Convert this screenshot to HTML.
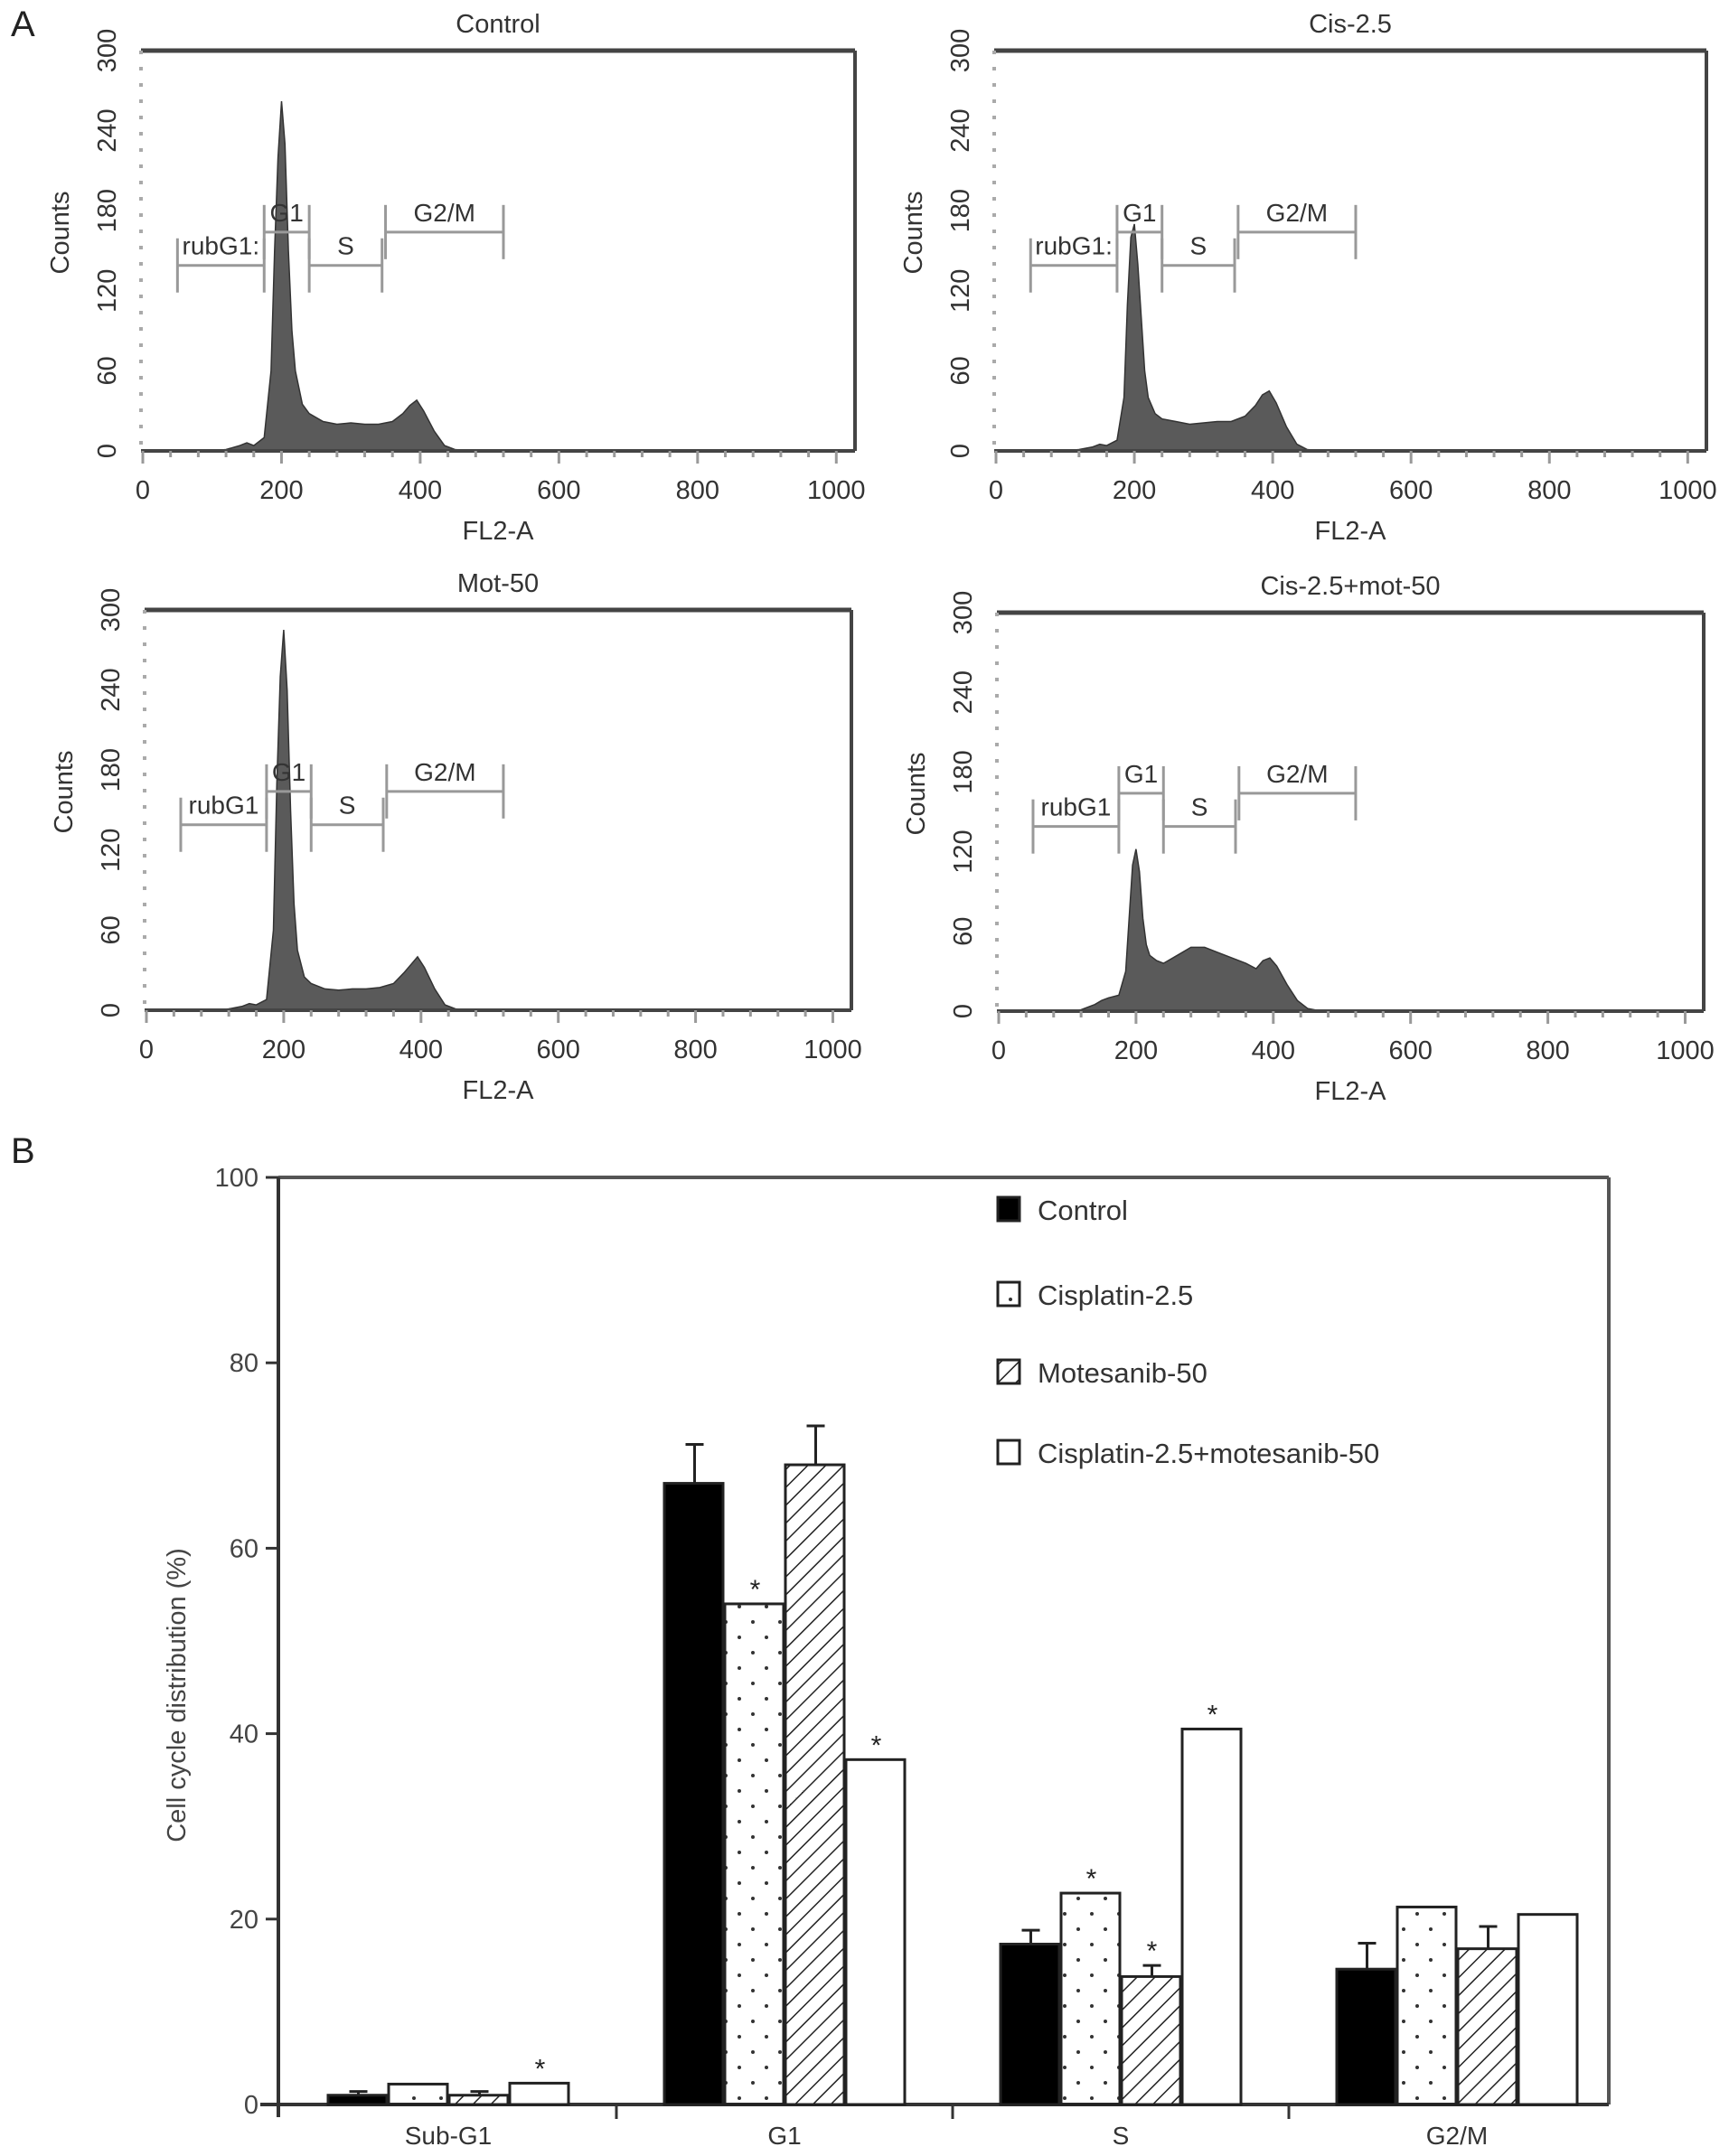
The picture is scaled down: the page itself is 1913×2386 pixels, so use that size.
<!DOCTYPE html>
<html><head><meta charset="utf-8">
<style>
html,body{margin:0;padding:0;background:#fff;}
svg{display:block;font-family:"Liberation Sans",Arial,sans-serif;}
</style></head>
<body>
<svg id="fig" width="1913" height="2386" viewBox="0 0 1913 2386" xmlns="http://www.w3.org/2000/svg">
<defs>
<pattern id="dots" width="30" height="34" patternUnits="userSpaceOnUse">
<circle cx="8" cy="10" r="2" fill="#333"/><circle cx="23" cy="27" r="2" fill="#333"/>
</pattern>
<pattern id="hatch" width="14" height="14" patternUnits="userSpaceOnUse" patternTransform="rotate(45)">
<rect width="14" height="14" fill="#fff"/><line x1="0" y1="0" x2="0" y2="14" stroke="#222" stroke-width="3"/>
</pattern>
</defs>
<text x="12" y="40" font-size="40" fill="#222">A</text>
<text x="12" y="1287" font-size="40" fill="#222">B</text>
</svg>
<script>
// ---------- Panel A histogram data ----------
const histX = [0,100,120,140,150,160,175,185,190,195,200,205,210,215,220,230,240,260,280,300,320,340,360,375,385,395,405,420,435,450,470,1027];
const histControl = [0,0,1,4,6,4,10,60,150,220,262,230,150,90,60,35,28,22,20,21,20,20,22,28,34,38,30,15,4,1,0,0];
const histCis = [0,0,1,3,5,4,8,40,110,160,170,140,100,60,40,28,24,22,20,21,22,22,26,34,42,45,36,18,5,1,0,0];
const histMot = [0,0,1,3,5,4,8,60,170,250,285,240,150,80,45,25,20,16,15,16,16,17,20,28,34,40,32,16,4,1,0,0];
const histCombo = [0,0,1,5,8,10,12,30,70,110,122,105,70,50,42,38,36,42,48,48,44,40,36,32,38,40,34,20,8,2,0,0];
const yTicks = [0,60,120,180,240,300];
const xTicks = [0,200,400,600,800,1000];
const panelTitles = ["Control","Cis-2.5","Mot-50","Cis-2.5+mot-50"];
const panelSeries = [histControl,histCis,histMot,histCombo];
const gateNames = ["rubG1","G1","S","G2/M"];
const gateStart = [50,175,240,350];
const gateEnd = [175,240,345,520];
const gateLevel = [139,164,139,164];
const gateLabelsP1 = ["rubG1:","G1","S","G2/M"];

// ---------- Panel B bar data ----------
const categories = ["Sub-G1","G1","S","G2/M"];
const seriesNames = ["Control","Cisplatin-2.5","Motesanib-50","Cisplatin-2.5+motesanib-50"];
const valControl = [1.0,67.0,17.3,14.6];
const valCis = [2.2,54.0,22.8,21.3];
const valMot = [1.0,69.0,13.8,16.8];
const valCombo = [2.3,37.2,40.5,20.5];
const errControl = [0.4,4.2,1.5,2.8];
const errCis = [0,0,0,0];
const errMot = [0.4,4.2,1.2,2.4];
const errCombo = [0,0,0,0];
const starControl = [0,0,0,0];
const starCis = [0,1,1,0];
const starMot = [0,0,1,0];
const starCombo = [1,1,1,0];
const barTicks = [0,20,40,60,80,100];

const NS="http://www.w3.org/2000/svg";
const svg=document.getElementById('fig');
function mk(tag,attrs,parent,text){const e=document.createElementNS(NS,tag);for(const k in attrs)e.setAttribute(k,attrs[k]);if(text!==undefined)e.textContent=text;(parent||svg).appendChild(e);return e;}

const panels=[
 {L:156,R:946,T:56,B:499},
 {L:1100,R:1888,T:56,B:499},
 {L:160,R:942,T:675,B:1118},
 {L:1103,R:1885,T:678,B:1119}
];
panels.forEach((p,i)=>{
  const g=mk('g',{});
  
  
  const x0=p.L+2, xs=(p.R-p.L-2)/1027;
  const X=v=>x0+v*xs, Y=v=>p.B-v*(p.B-p.T)/300;
  const s=panelSeries[i];
  let d='M'+X(histX[0])+','+Y(0);
  histX.forEach((xv,k)=>{d+=' L'+X(xv).toFixed(1)+','+Y(s[k]).toFixed(1);});
  d+=' L'+X(histX[histX.length-1])+','+Y(0)+' Z';
  const h=mk('path',{d:d,fill:'#5a5a5a',stroke:'#333','stroke-width':1.5},g);
  
  
  mk('line',{x1:p.L,y1:p.T,x2:p.R,y2:p.T,stroke:'#444','stroke-width':5},g);
  mk('line',{x1:p.R,y1:p.T,x2:p.R,y2:p.B,stroke:'#444','stroke-width':4},g);
  mk('line',{x1:p.L,y1:p.B,x2:p.R,y2:p.B,stroke:'#444','stroke-width':4},g);
  mk('line',{x1:p.L,y1:p.T,x2:p.L,y2:p.B,stroke:'#aaa','stroke-width':4,'stroke-dasharray':'4 14'},g);
  for(let v=0;v<=1000;v+=40){mk('line',{x1:X(v),y1:p.B,x2:X(v),y2:p.B+(v%200==0?14:7),stroke:'#999','stroke-width':3},g);}
  xTicks.forEach(v=>{const t=mk('text',{x:X(v),y:p.B+53,'font-size':29,'text-anchor':'middle',fill:'#333'},g,String(v));});
  yTicks.forEach(v=>{const t=mk('text',{x:0,y:0,'font-size':29,'text-anchor':'middle',fill:'#333',transform:`translate(${p.L-28},${Y(v)}) rotate(-90)`},g,String(v));});
  const xt=mk('text',{x:(p.L+p.R)/2,y:p.B+98,'font-size':29,'text-anchor':'middle',fill:'#333'},g,'FL2-A');
  
  const yt=mk('text',{x:0,y:0,'font-size':29,'text-anchor':'middle',fill:'#333',transform:`translate(${p.L-80},${(p.T+p.B)/2-20}) rotate(-90)`},g,'Counts');
  
  const tt=mk('text',{x:(p.L+p.R)/2,y:p.T-20,'font-size':29,'text-anchor':'middle',fill:'#333'},g,panelTitles[i]);
  
  gateNames.forEach((gn,k)=>{
    const gy=Y(gateLevel[k]);
    const gg=mk('g',{stroke:'#999','stroke-width':3},g);
    
    
    mk('line',{x1:X(gateStart[k]),y1:gy,x2:X(gateEnd[k]),y2:gy},gg);
    mk('line',{x1:X(gateStart[k]),y1:gy-30,x2:X(gateStart[k]),y2:gy+30},gg);
    mk('line',{x1:X(gateEnd[k]),y1:gy-30,x2:X(gateEnd[k]),y2:gy+30},gg);
    const lbl=(i==0||i==1)?gateLabelsP1[k]:gn;
    mk('text',{x:(X(gateStart[k])+X(gateEnd[k]))/2,y:gy-12,'font-size':28,'text-anchor':'middle',fill:'#333',stroke:'none'},gg,lbl);
  });
});

// ---------- Panel B ----------
const B={L:308,R:1780,T:1303,B:2329};
const YB=v=>B.B-v*(B.B-B.T)/100;
const bandStart=310, catW=372;
const barW=67;
const gb=mk('g',{});


mk('line',{x1:B.L,y1:B.T,x2:B.R,y2:B.T,stroke:'#555','stroke-width':4},gb);
mk('line',{x1:B.R,y1:B.T,x2:B.R,y2:B.B,stroke:'#555','stroke-width':4},gb);
mk('line',{x1:B.L,y1:B.T,x2:B.L,y2:B.B+14,stroke:'#333','stroke-width':4},gb);
mk('line',{x1:B.L-20,y1:B.B,x2:B.R,y2:B.B,stroke:'#333','stroke-width':4},gb);
barTicks.forEach(v=>{
  mk('line',{x1:B.L-14,y1:YB(v),x2:B.L,y2:YB(v),stroke:'#333','stroke-width':3},gb);
  const t=mk('text',{x:B.L-22,y:YB(v)+10,'font-size':29,'text-anchor':'end',fill:'#444'},gb,String(v));
  
});
const yta=mk('text',{x:0,y:0,'font-size':29,'text-anchor':'middle',fill:'#444',transform:`translate(205,${(B.T+B.B)/2+60}) rotate(-90)`},gb,'Cell cycle distribution (%)');

const vals=[valControl,valCis,valMot,valCombo];
const errs=[errControl,errCis,errMot,errCombo];
const stars=[starControl,starCis,starMot,starCombo];
const fills=['#000','url(#dots)','url(#hatch)','#fff'];
categories.forEach((c,ci)=>{
  const cx=bandStart+catW*(ci+0.5);
  if(ci>0) mk('line',{x1:bandStart+catW*ci,y1:B.B,x2:bandStart+catW*ci,y2:B.B+16,stroke:'#333','stroke-width':3},gb);
  const cl=mk('text',{x:cx,y:B.B+44,'font-size':28,'text-anchor':'middle',fill:'#333'},gb,c);
  
  vals.forEach((arr,si)=>{
    const x=cx-2*barW+si*barW+1;
    const y=YB(arr[ci]);
    const r=mk('rect',{x:x,y:y,width:barW-2,height:B.B-y,fill:fills[si],stroke:'#222','stroke-width':3},gb);
    
    
    if(errs[si][ci]>0){
      const ye=YB(arr[ci]+errs[si][ci]);
      mk('line',{x1:x+barW/2,y1:y,x2:x+barW/2,y2:ye,stroke:'#222','stroke-width':3},gb);
      mk('line',{x1:x+barW/2-10,y1:ye,x2:x+barW/2+10,y2:ye,stroke:'#222','stroke-width':3},gb);
    }
    if(stars[si][ci]){
      const ys=YB(arr[ci]+errs[si][ci]);
      const st=mk('text',{x:x+barW/2,y:ys-6,'font-size':30,'text-anchor':'middle',fill:'#222'},gb,'*');
      
    }
  });
});
const legY=[1338,1432,1518,1607];
seriesNames.forEach((n,si)=>{
  const lg=mk('g',{},gb);
  
  
  mk('rect',{x:1104,y:legY[si]-13,width:24,height:26,fill:fills[si],stroke:'#222','stroke-width':3},lg);
  mk('text',{x:1148,y:legY[si]+12,'font-size':31,fill:'#333'},lg,n);
});
</script>
</body></html>
